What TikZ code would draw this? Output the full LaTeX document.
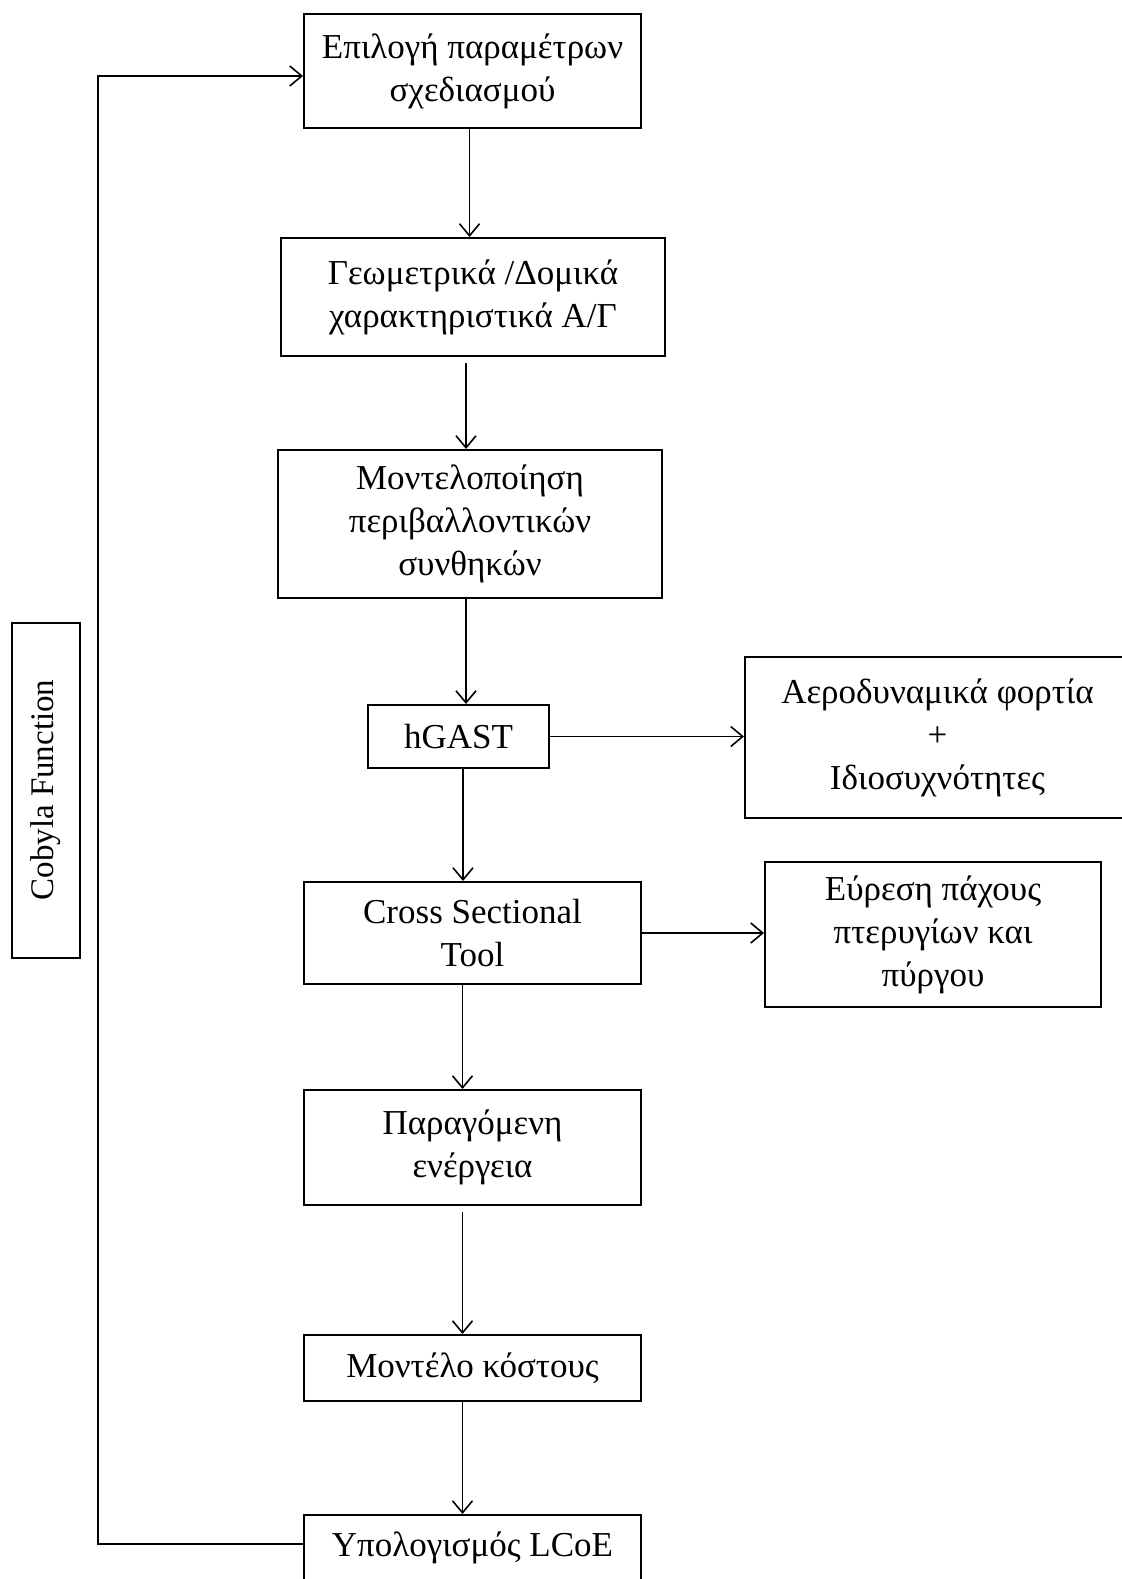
\documentclass[tikz,border=0pt]{standalone}
\usepackage{fontspec}
\setmainfont{Liberation Serif}
\usetikzlibrary{arrows.meta}
\begin{document}
\begin{tikzpicture}[x=0.5pt,y=-0.5pt,
  box/.style={draw,line width=1pt,rectangle,align=center,inner sep=2pt,
    font=\fontsize{17.5}{21.5}\selectfont},
  arr/.style={-{Straight Barb[length=6pt,width=10pt]},line width=0.8pt}]
  \useasboundingbox[fill=white] (0,0) rectangle (1121,1579);
  % main column (sizes in pt = half the pixel size)
  \node[box,minimum width=168.5pt,minimum height=57pt] (sel) at (472.5,71)
    {Επιλογή παραμέτρων\\σχεδιασμού};
  \node[box,minimum width=192pt,minimum height=59pt] (geo) at (473,297)
    {Γεωμετρικά /Δομικά\\χαρακτηριστικά Α/Γ};
  \node[box,minimum width=192pt,minimum height=74pt] (env) at (470,524)
    {Μοντελοποίηση\\περιβαλλοντικών\\συνθηκών};
  \node[box,minimum width=90.5pt,minimum height=31.5pt] (hgast) at (458.5,736.5)
    {hGAST};
  \node[box,minimum width=168.5pt,minimum height=51pt] (cst) at (472.5,933)
    {Cross Sectional\\Tool};
  \node[box,minimum width=168.5pt,minimum height=57.5pt] (energy) at (472.5,1147.5)
    {Παραγόμενη\\ενέργεια};
  \node[box,minimum width=168.5pt,minimum height=33pt] (cost) at (472.5,1368)
    {Μοντέλο κόστους};
  \node[box,minimum width=168.5pt,minimum height=33pt] (lcoe) at (472.5,1548)
    {Υπολογισμός LCoE};
  % side outputs
  \node[box,minimum width=192.5pt,minimum height=80.5pt] (aero) at (937.5,737.5)
    {Αεροδυναμικά φορτία\\+\\Ιδιοσυχνότητες};
  \node[box,minimum width=168pt,minimum height=72.5pt] (thick) at (933,934.5)
    {Εύρεση πάχους\\πτερυγίων και\\πύργου};
  % optimiser label
  \node[box,rotate=90,minimum width=167.5pt,minimum height=34pt,
    font=\fontsize{16.5}{20}\selectfont] (cobyla) at (46,790)
    {Cobyla Function};
  % flow
  \draw[arr] ([xshift=-1.5pt]sel.south) -- ([xshift=-1.5pt]sel.south |- geo.north);
  \draw[arr] ([xshift=-3.5pt,yshift=-3pt]geo.south) -- ([xshift=-3.5pt]geo.south |- env.north);
  \draw[arr] ([xshift=-2pt]env.south) -- ([xshift=-2pt]env.south |- hgast.north);
  \draw[arr] ([xshift=2.25pt]hgast.south) -- ([xshift=2.25pt]hgast.south |- cst.north);
  \draw[arr] ([xshift=-5pt]cst.south) -- ([xshift=-5pt]cst.south |- energy.north);
  \draw[arr] ([xshift=-5pt,yshift=-3pt]energy.south) -- ([xshift=-5pt]energy.south |- cost.north);
  \draw[arr] ([xshift=-5pt]cost.south) -- ([xshift=-5pt]cost.south |- lcoe.north);
  \draw[arr] (hgast.east) -- (aero.west |- hgast.east);
  \draw[arr] (cst.east) -- (thick.west |- cst.east);
  % feedback loop
  \coordinate (loop) at (98,0);
  \draw[arr] ([yshift=2pt]lcoe.west) -- ([yshift=2pt]lcoe.west -| loop)
    -- ([yshift=-2.5pt]sel.west -| loop) -- ([yshift=-2.5pt]sel.west);
\end{tikzpicture}
\end{document}
